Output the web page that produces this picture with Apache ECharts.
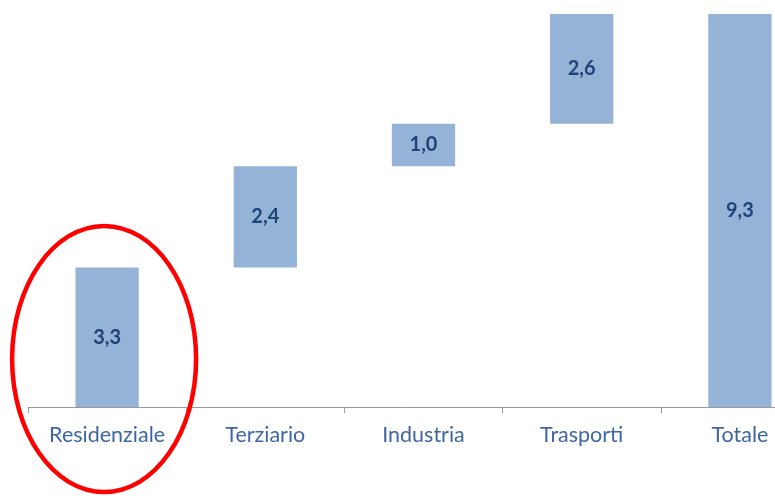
<!DOCTYPE html>
<html><head><meta charset="utf-8">
<script src="https://cdn.jsdelivr.net/npm/echarts@6/dist/echarts.min.js"></script>
<style>html,body{margin:0;padding:0;background:#fff}#c{width:775px;height:496px}</style>
</head><body><div id="c"></div>
<script>
const categories = ['Residenziale','Terziario','Industria','Trasporti','Totale'];
const values = [3.3, 2.4, 1.0, 2.6, 9.3];
const isTotal = [false,false,false,false,true];

const bases = [];
let run = 0;
values.forEach((v,i)=>{ if(isTotal[i]){bases.push(0);} else {bases.push(+run.toFixed(1)); run += v;} });

const chart = echarts.init(document.getElementById('c'), null, {renderer:'canvas'});
chart.setOption({
  animation:false,
  grid:{left:28, top:14, width:791, height:393, containLabel:false, outerBoundsMode:'none'},
  xAxis:{type:'category', data:categories,
    axisLine:{lineStyle:{color:'#9a9a9a', width:1}},
    axisTick:{show:true, length:6, lineStyle:{color:'#9a9a9a'}},
    axisLabel:{color:'#3f66a3', fontFamily:'Lato, "Open Sans", sans-serif', fontSize:21.5, margin:17}},
  yAxis:{type:'value', min:0, max:9.3, show:false, splitLine:{show:false}},
  series:[
    {type:'bar', stack:'w', data:bases, itemStyle:{color:'transparent'}, barWidth:'40%', silent:true},
    {type:'bar', stack:'w', data:values, barWidth:'40%',
      itemStyle:{color:'#95b3d7'},
      label:{show:true, position:'inside', color:'#1f4279', fontWeight:'bold', fontSize:20,
        fontFamily:'Lato, "Open Sans", sans-serif',
        formatter:p=>p.value.toFixed(1).replace('.',',')}}
  ]
});
const c = chart.convertToPixel({xAxisIndex:0,yAxisIndex:0},[categories[0], 0]);
chart.setOption({graphic:[{type:'ellipse', shape:{cx:c[0]-3, cy:c[1]-48, rx:92, ry:133},
  style:{fill:'none', stroke:'#ff0000', lineWidth:4.5}, z:100}]});
</script></body></html>
